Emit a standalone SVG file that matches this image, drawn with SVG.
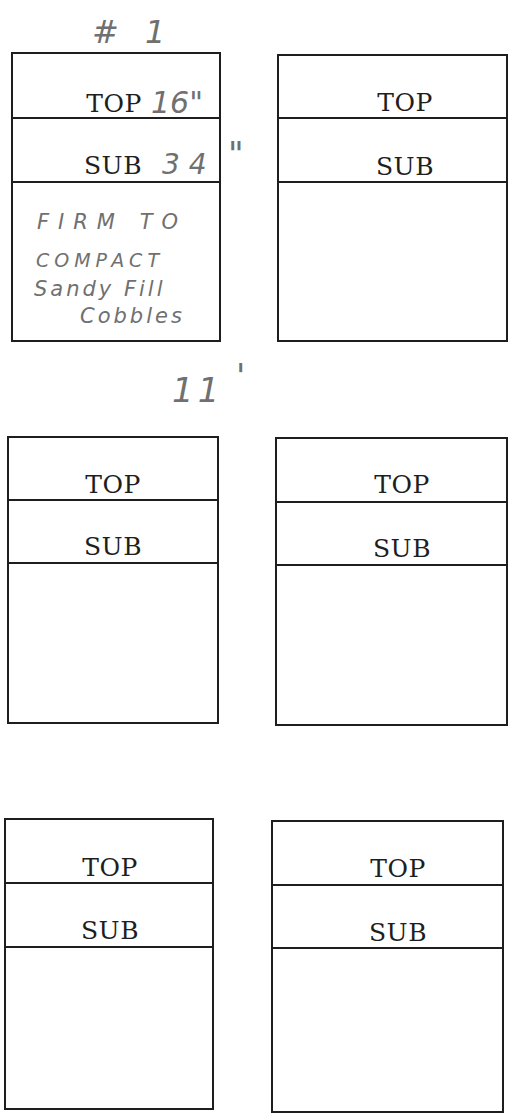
<svg xmlns="http://www.w3.org/2000/svg" width="510" height="1116" viewBox="0 0 510 1116">
<style>
.b{fill:none;stroke:#1e1e1e;stroke-width:2}
.l{stroke:#1e1e1e;stroke-width:2}
.t{font-family:"DejaVu Serif","Liberation Serif",serif;font-size:25px;letter-spacing:0.5px;fill:#1e1e1e;text-anchor:middle}
.h{font-family:"DejaVu Sans","Liberation Sans",sans-serif;font-style:italic;fill:#707070;font-weight:normal}
</style>
<rect width="510" height="1116" fill="#fff"/>
<g id="annotations">
<text class="h" x="92" y="43" font-size="32" letter-spacing="8">#  1</text>
<text class="h" x="151" y="113" font-size="30">16"</text>
<text class="h" x="162" y="174" font-size="28" letter-spacing="9">34</text>
<text class="h" x="228" y="166" font-size="34">"</text>
<text class="h" x="37" y="229" font-size="21" letter-spacing="9">FIRM  TO</text>
<text class="h" x="36" y="267" font-size="19" letter-spacing="5">COMPACT</text>
<text class="h" x="34" y="296" font-size="21" letter-spacing="3">Sandy Fill</text>
<text class="h" x="80" y="323" font-size="21" letter-spacing="3">Cobbles</text>
<text class="h" x="172" y="402" font-size="34" letter-spacing="4">11</text>
<text class="h" x="236" y="388" font-size="34">'</text>
</g>
<g id="box1">
<rect class="b" x="12" y="53" width="208" height="288"/>
<line class="l" x1="12" y1="118" x2="220" y2="118"/>
<line class="l" x1="12" y1="182" x2="220" y2="182"/>
<text class="t" x="114" y="112">TOP</text>
<text class="t" x="113" y="174">SUB</text>
</g>
<g id="box2">
<rect class="b" x="278" y="55" width="229" height="286"/>
<line class="l" x1="278" y1="118" x2="507" y2="118"/>
<line class="l" x1="278" y1="182" x2="507" y2="182"/>
<text class="t" x="405" y="111">TOP</text>
<text class="t" x="405" y="175">SUB</text>
</g>
<g id="box3">
<rect class="b" x="8" y="437" width="210" height="286"/>
<line class="l" x1="8" y1="500" x2="218" y2="500"/>
<line class="l" x1="8" y1="563" x2="218" y2="563"/>
<text class="t" x="113" y="493">TOP</text>
<text class="t" x="113" y="555">SUB</text>
</g>
<g id="box4">
<rect class="b" x="276" y="438" width="231" height="287"/>
<line class="l" x1="276" y1="502" x2="507" y2="502"/>
<line class="l" x1="276" y1="565" x2="507" y2="565"/>
<text class="t" x="402" y="493">TOP</text>
<text class="t" x="402" y="557">SUB</text>
</g>
<g id="box5">
<rect class="b" x="5" y="819" width="208" height="290"/>
<line class="l" x1="5" y1="883" x2="213" y2="883"/>
<line class="l" x1="5" y1="947" x2="213" y2="947"/>
<text class="t" x="110" y="876">TOP</text>
<text class="t" x="110" y="939">SUB</text>
</g>
<g id="box6">
<rect class="b" x="272" y="821" width="231" height="291"/>
<line class="l" x1="272" y1="885" x2="503" y2="885"/>
<line class="l" x1="272" y1="948" x2="503" y2="948"/>
<text class="t" x="398" y="877">TOP</text>
<text class="t" x="398" y="941">SUB</text>
</g>
<g id="connectors"/>
</svg>
